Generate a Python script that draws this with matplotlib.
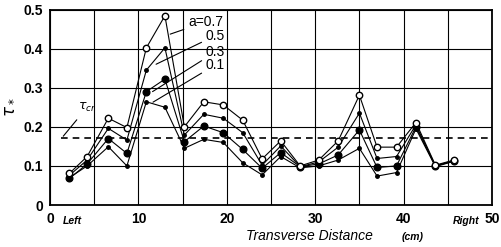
import matplotlib
matplotlib.use("Agg")
import matplotlib.pyplot as plt

# transverse positions (cm) and tau* for each a
x = [2.2, 4.2, 6.6, 8.7, 10.9, 13.0, 15.2, 17.4, 19.6, 21.8, 24.0,
     26.1, 28.3, 30.4, 32.6, 35.0, 37.0, 39.2, 41.4, 43.6, 45.7]
a07 = [0.081, 0.124, 0.222, 0.198, 0.402, 0.484, 0.200, 0.264, 0.256, 0.217, 0.118,
       0.164, 0.100, 0.115, 0.164, 0.281, 0.148, 0.148, 0.211, 0.102, 0.115]
a05 = [0.076, 0.115, 0.196, 0.166, 0.345, 0.402, 0.179, 0.232, 0.222, 0.185, 0.102,
       0.151, 0.098, 0.110, 0.148, 0.235, 0.119, 0.124, 0.205, 0.100, 0.114]
a03 = [0.068, 0.105, 0.170, 0.132, 0.290, 0.322, 0.162, 0.202, 0.185, 0.142, 0.094,
       0.134, 0.098, 0.105, 0.128, 0.192, 0.096, 0.100, 0.200, 0.100, 0.112]
a01 = [0.070, 0.100, 0.149, 0.100, 0.264, 0.250, 0.145, 0.168, 0.160, 0.108, 0.077,
       0.124, 0.095, 0.100, 0.115, 0.145, 0.074, 0.083, 0.195, 0.098, 0.112]
tau_cr = 0.172

xticks = [0, 10, 20, 30, 40, 50]
yticks = [0, 0.1, 0.2, 0.3, 0.4, 0.5]
ytick_labels = ["0", "0.1", "0.2", "0.3", "0.4", "0.5"]

plt.rcParams["font.family"] = ["Liberation Sans", "DejaVu Sans"]
plt.rcParams["mathtext.fontset"] = "dejavusans"

fig = plt.figure(figsize=(5.01, 2.47), dpi=100)
ax = fig.add_axes([0.0998, 0.170, 0.8822, 0.7915])

ax.set_xlim(0, 50)
ax.set_ylim(0, 0.5)
ax.set_xticks(xticks)
ax.set_xticks([5, 15, 25, 35, 45], minor=True)
ax.set_yticks(yticks)
ax.set_yticklabels(ytick_labels)
ax.tick_params(which="both", length=0, labelsize=10, pad=5)
for lab in ax.get_xticklabels() + ax.get_yticklabels():
    lab.set_fontweight("bold")
ax.grid(True, which="both", color="black", linewidth=0.8)
ax.set_axisbelow(True)
for sp in ax.spines.values():
    sp.set_linewidth(1.3)

# critical value
ax.plot([1.2, 50], [tau_cr, tau_cr], color="black", linestyle=(0, (4, 3)), linewidth=1.2)
ax.annotate(r"$\tau_{cr}$", xy=(1.5, 0.176), xytext=(4.2, 0.25),
            fontsize=9, ha="center", va="center",
            arrowprops=dict(arrowstyle="-", color="black", lw=0.8,
                            shrinkA=3, shrinkB=0))

ax.plot(x, a01, color="black", linewidth=0.8, marker="o", markersize=2.5,
        markerfacecolor="black")
ax.plot(x, a03, color="black", linewidth=0.8, marker="o", markersize=4.8,
        markerfacecolor="black")
ax.plot(x, a05, color="black", linewidth=0.8, marker="o", markersize=2.5,
        markerfacecolor="black")
ax.plot(x, a07, color="black", linewidth=0.8, marker="o", markersize=4.6,
        markerfacecolor="white", markeredgewidth=1.0, zorder=5)

# series labels with leaders
ax.annotate("a=0.7", xy=(13.6, 0.437), xytext=(15.6, 0.468), fontsize=10,
            ha="left", va="center",
            arrowprops=dict(arrowstyle="-", color="black", lw=0.8, shrinkA=1, shrinkB=0))
ax.annotate("0.5", xy=(12.0, 0.36), xytext=(17.6, 0.433), fontsize=10,
            ha="left", va="center",
            arrowprops=dict(arrowstyle="-", color="black", lw=0.8, shrinkA=1, shrinkB=0))
ax.annotate("0.3", xy=(11.6, 0.29), xytext=(17.6, 0.391), fontsize=10,
            ha="left", va="center",
            arrowprops=dict(arrowstyle="-", color="black", lw=0.8, shrinkA=1, shrinkB=0))
ax.annotate("0.1", xy=(11.65, 0.263), xytext=(17.6, 0.358), fontsize=10,
            ha="left", va="center",
            arrowprops=dict(arrowstyle="-", color="black", lw=0.8, shrinkA=1, shrinkB=0))

ax.set_ylabel(r"$\tau_*$", fontsize=12, labelpad=6)

# bottom labels
ax.text(2.5, -0.041, "Left", fontsize=7.5, fontweight="bold", fontstyle="italic",
        ha="center", va="center")
ax.text(47.1, -0.041, "Right", fontsize=7.5, fontweight="bold", fontstyle="italic",
        ha="center", va="center")
ax.text(29.4, -0.08, "Transverse Distance", fontsize=10, fontstyle="italic",
        ha="center", va="center")
ax.text(41.0, -0.082, "(cm)", fontsize=7.5, fontstyle="italic", fontweight="bold",
        ha="center", va="center")

plt.savefig("out.png", dpi=100)
